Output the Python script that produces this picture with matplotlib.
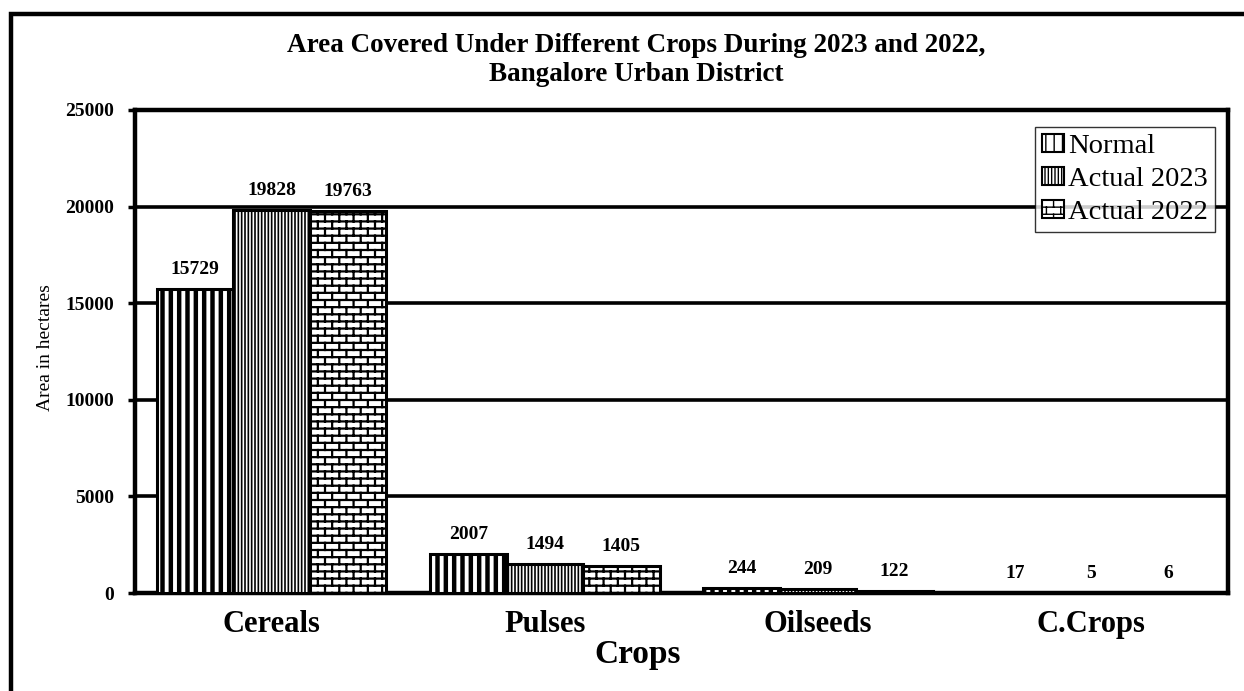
import warnings
import numpy as np
import matplotlib
matplotlib.use("Agg")
import matplotlib.pyplot as plt
from matplotlib import hatch as mhatch
from matplotlib.path import Path
from matplotlib.lines import Line2D

warnings.filterwarnings("ignore")

# ---------------- data ----------------
categories = ["Cereals", "Pulses", "Oilseeds", "C.Crops"]
series_names = ["Normal", "Actual 2023", "Actual 2022"]
normal = [15729, 2007, 244, 17]
actual_2023 = [19828, 1494, 209, 5]
actual_2022 = [19763, 1405, 122, 6]
yticks = [0, 5000, 10000, 15000, 20000, 25000]
title = "Area Covered Under Different Crops During 2023 and 2022,\nBangalore Urban District"
ylabel = "Area in hectares"
xlabel = "Crops"


# ---------------- custom brick hatch ----------------
class BrickHatch(mhatch.HatchPatternBase):
    def __init__(self, hatch, density):
        self.n = hatch.count('b')
        self.rows = 14
        self.cols = 7
        if self.n:
            self.num_vertices = (self.rows + 1) * 2 + self.rows * self.cols * 2
        else:
            self.num_vertices = 0

    def set_vertices_and_codes(self, vertices, codes):
        k = 0
        for i in range(self.rows + 1):
            y = i / self.rows
            vertices[k] = (0.0, y); codes[k] = Path.MOVETO; k += 1
            vertices[k] = (1.0, y); codes[k] = Path.LINETO; k += 1
        for i in range(self.rows):
            y0 = i / self.rows
            y1 = (i + 1) / self.rows
            for j in range(self.cols):
                x = (j + 0.25 + 0.5 * (i % 2)) / self.cols
                vertices[k] = (x, y0); codes[k] = Path.MOVETO; k += 1
                vertices[k] = (x, y1); codes[k] = Path.LINETO; k += 1


if BrickHatch not in mhatch._hatch_types:
    mhatch._hatch_types.append(BrickHatch)

plt.rcParams['font.family'] = ['Liberation Serif', 'DejaVu Serif']
plt.rcParams['hatch.color'] = 'black'

fig = plt.figure(figsize=(12.44, 6.91), dpi=100)
W, H = 1244, 691
ax = fig.add_axes([135 / W, 1 - 593 / H, (1228 - 135) / W, (593 - 110) / H])

x = np.arange(len(categories))
bw = 0.28
offsets = [-bw, 0, bw]
hatches = ['||', '|||||', 'b']
hatch_lw = [3.2, 1.2, 1.6]
all_series = [normal, actual_2023, actual_2022]

for vals, off, h, hl, name in zip(all_series, offsets, hatches, hatch_lw, series_names):
    bars = ax.bar(x + off, vals, width=bw, color='white', edgecolor='black',
                  linewidth=2.2, hatch=h, label=name, zorder=3)
    for b in bars:
        try:
            b.set_hatch_linewidth(hl)
        except Exception:
            pass
    for b, v in zip(bars, vals):
        ax.annotate(f"{v}", (b.get_x() + b.get_width() / 2, b.get_height()),
                    xytext=(0, 8), textcoords='offset points', ha='center',
                    va='bottom', fontsize=14, fontweight='bold', zorder=5)

ax.set_xlim(-0.5, len(categories) - 0.5)
ax.set_ylim(0, 25000)
ax.set_yticks(yticks)
ax.set_yticklabels([str(t) for t in yticks], fontsize=14, fontweight='bold')
ax.set_xticks(x)
ax.set_xticklabels(categories, fontsize=22, fontweight='bold')
ax.tick_params(axis='x', length=0, pad=12)
ax.tick_params(axis='y', length=5, width=2.5, direction='out', pad=10)
ax.yaxis.grid(True, color='black', linewidth=2.6, zorder=0)
ax.set_axisbelow(True)
for s in ax.spines.values():
    s.set_linewidth(3.2)
    s.set_color('black')

fig.text(45 / W, 1 - 348 / H, ylabel, rotation=90, ha='center', va='center',
         fontsize=14)
fig.text(638 / W, 1 - 655 / H, xlabel, ha='center', va='center',
         fontsize=24, fontweight='bold')
fig.text(636 / W, 1 - 60 / H, title, ha='center', va='center',
         fontsize=19.5, fontweight='bold', linespacing=1.2)

leg = ax.legend(loc='upper right', bbox_to_anchor=(1215 / W, 1 - 127 / H),
                bbox_transform=fig.transFigure, fontsize=20.5, frameon=True,
                fancybox=False, edgecolor='black', handlelength=0.75,
                handleheight=0.55, handletextpad=0.15, labelspacing=0.28,
                borderpad=0.25, borderaxespad=0)
leg.get_frame().set_linewidth(1.0)
for p in leg.get_patches():
    p.set_linewidth(1.5)

# outer figure border (left and top)
fig.add_artist(Line2D([11 / W, 11 / W, 1.0], [0.0, 1 - 14 / H, 1 - 14 / H],
                      transform=fig.transFigure, color='black', linewidth=3.2,
                      solid_joinstyle='miter'))

fig.savefig("out.png", dpi=100)
